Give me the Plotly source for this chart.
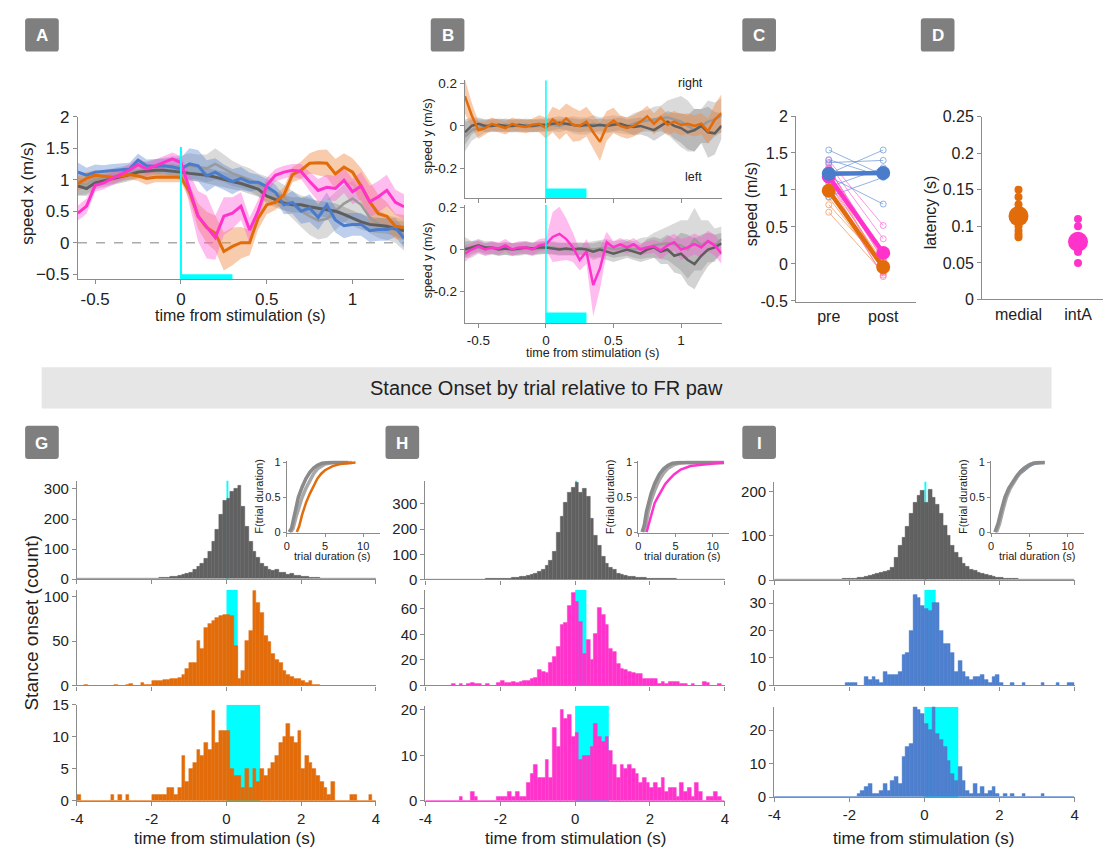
import numpy as np
import plotly.graph_objects as go

W, H = 1107, 856
FONT = "Liberation Sans, Arial, sans-serif"

ORANGE = "#E36C0A"
MAGENTA = "#FF33CC"
BLUE = "#4A7CCB"
DGRAY = "#5E5E5E"
LGRAY = "#9A9A9A"
CYAN = "#00FFFF"
AXC = "#8C8C8C"
TXT = "#222222"

# ---------------- panels A / B : speed traces (0.05 s steps) ----------------
t_trace = np.round(np.arange(-0.6, 1.3001, 0.05), 3)

a_orange = [0.94, 1.02, 1.07, 1.05, 1.04, 1.06, 1.08, 1.06, 1.02, 1.04, 1.04, 1.03, 1.04,
            0.80, 0.42, 0.24, 0.15, -0.14, -0.06, 0.0, 0.0, 0.39, 0.60, 0.64, 0.76, 1.08,
            1.15, 1.26, 1.27, 1.26, 1.09, 1.20, 1.12, 0.90, 0.65, 0.46, 0.42, 0.26, 0.24]
a_orange_sd = [0.12, 0.1, 0.08, 0.08, 0.07, 0.07, 0.07, 0.08, 0.1, 0.08, 0.07, 0.07, 0.08,
               0.12, 0.2, 0.25, 0.28, 0.3, 0.3, 0.25, 0.2, 0.18, 0.15, 0.12, 0.12, 0.12,
               0.14, 0.16, 0.2, 0.22, 0.24, 0.22, 0.22, 0.28, 0.32, 0.3, 0.22, 0.2, 0.2]
a_magenta = [0.47, 0.58, 0.91, 0.95, 1.02, 1.08, 1.15, 1.24, 1.17, 1.22, 1.27, 1.33, 1.27,
             0.85, 0.42, 0.25, 0.08, 0.42, 0.47, 0.58, 0.20, 0.50, 0.91, 1.07, 1.12, 1.15,
             1.13, 0.97, 0.83, 0.88, 0.86, 0.99, 0.81, 0.90, 0.65, 0.73, 0.83, 0.64, 0.57]
a_magenta_sd = [0.12, 0.12, 0.1, 0.1, 0.1, 0.1, 0.1, 0.1, 0.1, 0.1, 0.1, 0.1, 0.1,
                0.25, 0.4, 0.5, 0.35, 0.3, 0.25, 0.22, 0.2, 0.18, 0.12, 0.1, 0.1, 0.1,
                0.12, 0.15, 0.18, 0.2, 0.2, 0.2, 0.2, 0.22, 0.25, 0.25, 0.25, 0.2, 0.2]
a_blue = [1.12, 1.07, 1.12, 1.13, 1.15, 1.16, 1.17, 1.31, 1.22, 1.21, 1.22, 1.20, 1.17,
          1.25, 1.22, 1.06, 1.12, 1.04, 0.97, 1.02, 0.96, 0.96, 0.89, 0.80, 0.60, 0.64,
          0.50, 0.55, 0.40, 0.60, 0.36, 0.27, 0.29, 0.29, 0.19, 0.21, 0.21, 0.24, 0.07]
a_blue_sd = [0.15, 0.12, 0.12, 0.1, 0.1, 0.1, 0.1, 0.1, 0.1, 0.12, 0.12, 0.15, 0.18,
             0.25, 0.25, 0.25, 0.22, 0.2, 0.2, 0.18, 0.15, 0.12, 0.12, 0.12, 0.15, 0.18,
             0.2, 0.22, 0.2, 0.2, 0.2, 0.2, 0.18, 0.18, 0.18, 0.18, 0.18, 0.15, 0.15]
a_gray1 = [0.90, 0.86, 0.95, 0.98, 1.02, 1.05, 1.08, 1.12, 1.14, 1.15, 1.15, 1.14, 1.12,
           1.10, 1.09, 1.07, 1.04, 1.00, 0.97, 0.94, 0.90, 0.85, 0.74, 0.68, 0.63, 0.60,
           0.60, 0.57, 0.55, 0.52, 0.50, 0.45, 0.39, 0.33, 0.29, 0.27, 0.26, 0.22, 0.19]
a_gray1_sd = [0.15, 0.12, 0.1, 0.1, 0.1, 0.1, 0.1, 0.1, 0.1, 0.1, 0.1, 0.1, 0.12,
              0.12, 0.12, 0.12, 0.12, 0.12, 0.12, 0.12, 0.12, 0.12, 0.12, 0.12, 0.12, 0.12,
              0.12, 0.12, 0.12, 0.12, 0.12, 0.12, 0.12, 0.12, 0.12, 0.12, 0.12, 0.12, 0.15]
a_gray2 = [0.95, 0.92, 1.00, 1.03, 1.05, 1.08, 1.12, 1.15, 1.18, 1.20, 1.20, 1.22, 1.20,
           1.22, 1.20, 1.18, 1.25, 1.18, 1.10, 1.05, 1.00, 0.92, 0.85, 0.80, 0.72, 0.60,
           0.50, 0.42, 0.35, 0.38, 0.50, 0.62, 0.70, 0.60, 0.40, 0.30, 0.24, 0.20, 0.12]
a_gray2_sd = [0.2, 0.15, 0.12, 0.12, 0.12, 0.12, 0.12, 0.12, 0.12, 0.12, 0.15, 0.15, 0.18,
              0.2, 0.2, 0.22, 0.25, 0.22, 0.2, 0.18, 0.18, 0.18, 0.2, 0.2, 0.2, 0.22,
              0.25, 0.3, 0.3, 0.3, 0.3, 0.3, 0.28, 0.25, 0.25, 0.22, 0.2, 0.2, 0.25]

b_orange = [0.14, 0.05, -0.02, -0.01, 0.01, 0.0, -0.01, 0.01, 0.0, -0.005, 0.005, 0.01, -0.01,
            0.03, 0.005, 0.035, 0.005, 0.0, 0.02, -0.03, -0.075, 0.0, 0.025, 0.0, -0.01, 0.0,
            0.02, 0.045, 0.01, 0.04, 0.005, 0.02, 0.005, 0.01, 0.0, 0.01, -0.025, 0.03, 0.06]
b_orange_sd = [0.08, 0.06, 0.04, 0.03, 0.03, 0.03, 0.03, 0.03, 0.03, 0.03, 0.03, 0.04, 0.05,
               0.06, 0.07, 0.07, 0.08, 0.07, 0.07, 0.08, 0.09, 0.07, 0.06, 0.05, 0.05, 0.05,
               0.05, 0.05, 0.05, 0.05, 0.05, 0.05, 0.05, 0.05, 0.05, 0.05, 0.06, 0.07, 0.09]
b_top_gray1 = [-0.03, 0.0, 0.01, 0.0, 0.0, 0.005, 0.0, 0.0, 0.005, 0.0, 0.0, 0.005, 0.005,
               0.01, 0.015, 0.01, 0.005, 0.0, 0.005, 0.0, 0.005, 0.0, 0.005, 0.01, 0.0, -0.005,
               0.0, -0.01, -0.02, 0.0, 0.02, 0.0, -0.01, -0.03, -0.02, 0.0, -0.03, -0.035, 0.0]
b_top_gray1_sd = [0.06, 0.04, 0.03, 0.03, 0.03, 0.03, 0.03, 0.03, 0.03, 0.03, 0.03, 0.03, 0.03,
                  0.03, 0.03, 0.03, 0.03, 0.03, 0.03, 0.03, 0.03, 0.03, 0.03, 0.03, 0.03, 0.04,
                  0.04, 0.04, 0.05, 0.05, 0.05, 0.06, 0.07, 0.08, 0.1, 0.08, 0.12, 0.1, 0.06]
b_top_gray2 = [-0.05, -0.02, -0.01, 0.0, 0.005, 0.0, 0.005, 0.0, 0.0, 0.005, 0.0, 0.0, 0.0,
               0.005, 0.0, 0.01, 0.005, 0.0, 0.0, 0.01, 0.0, 0.005, 0.01, 0.005, 0.0, 0.01,
               0.02, 0.025, 0.03, 0.035, 0.04, 0.03, 0.02, 0.0, -0.02, 0.0, 0.02, 0.03, 0.05]
b_top_gray2_sd = [0.07, 0.05, 0.04, 0.03, 0.03, 0.03, 0.03, 0.03, 0.03, 0.03, 0.03, 0.03, 0.03,
                  0.03, 0.03, 0.03, 0.04, 0.04, 0.04, 0.04, 0.04, 0.04, 0.04, 0.04, 0.04, 0.05,
                  0.05, 0.05, 0.06, 0.06, 0.08, 0.1, 0.12, 0.12, 0.1, 0.08, 0.1, 0.08, 0.08]

b_magenta = [-0.02, 0.0, 0.015, 0.0, 0.01, 0.005, 0.02, 0.0, 0.01, 0.01, 0.0, 0.02, 0.025,
             0.06, 0.075, 0.05, 0.01, -0.05, -0.01, -0.17, -0.09, 0.035, 0.01, 0.025, 0.01, 0.025,
             0.0, 0.01, 0.015, -0.005, 0.02, 0.035, 0.0, 0.01, 0.027, 0.01, 0.04, 0.02, -0.02]
b_magenta_sd = [0.04, 0.03, 0.03, 0.03, 0.03, 0.03, 0.03, 0.03, 0.03, 0.03, 0.03, 0.03, 0.03,
                0.12, 0.13, 0.1, 0.07, 0.05, 0.06, 0.15, 0.1, 0.05, 0.03, 0.03, 0.03, 0.03,
                0.03, 0.03, 0.03, 0.04, 0.04, 0.04, 0.05, 0.05, 0.05, 0.05, 0.05, 0.05, 0.05]
b_bot_gray1 = [0.0, 0.01, 0.02, 0.01, 0.01, 0.0, 0.005, 0.0, 0.005, 0.01, 0.005, 0.01, 0.01,
               0.005, 0.0, 0.005, 0.0, 0.005, 0.0, -0.01, 0.0, -0.01, -0.02, -0.01, 0.0, -0.01,
               -0.02, 0.0, 0.01, -0.01, 0.0, -0.03, -0.02, -0.05, -0.07, -0.03, 0.0, 0.01, 0.03]
b_bot_gray1_sd = [0.04, 0.03, 0.03, 0.03, 0.03, 0.03, 0.03, 0.03, 0.03, 0.03, 0.03, 0.03, 0.03,
                  0.03, 0.03, 0.03, 0.03, 0.03, 0.03, 0.04, 0.04, 0.04, 0.04, 0.04, 0.04, 0.04,
                  0.04, 0.05, 0.05, 0.06, 0.07, 0.08, 0.1, 0.12, 0.12, 0.1, 0.08, 0.06, 0.05]
b_bot_gray2 = [0.01, 0.0, 0.01, 0.0, 0.005, 0.0, 0.005, 0.0, 0.0, 0.005, 0.0, 0.005, 0.01,
               0.01, 0.005, 0.0, 0.005, 0.0, 0.005, 0.0, 0.005, 0.01, 0.0, 0.005, 0.01, 0.0,
               0.005, 0.01, 0.02, 0.025, 0.03, 0.025, 0.02, 0.0, 0.05, 0.02, 0.04, 0.02, 0.05]
b_bot_gray2_sd = [0.05, 0.04, 0.03, 0.03, 0.03, 0.03, 0.03, 0.03, 0.03, 0.03, 0.03, 0.03, 0.03,
                  0.03, 0.03, 0.03, 0.03, 0.03, 0.03, 0.04, 0.04, 0.04, 0.04, 0.04, 0.04, 0.04,
                  0.05, 0.05, 0.06, 0.07, 0.08, 0.1, 0.12, 0.14, 0.15, 0.12, 0.1, 0.08, 0.06]

# ---------------- panel C : speed before / after stimulation ----------------
c_blue_pre = [1.54, 1.41, 1.37, 1.25, 1.22, 1.18, 1.04, 0.91]
c_blue_post = [1.20, 1.18, 1.40, 1.22, 1.54, 0.81, 1.30, 1.17]
c_orange_pre = [1.30, 1.20, 1.10, 1.05, 1.00, 0.90, 0.80, 0.70]
c_orange_post = [0.05, -0.05, 0.02, -0.10, -0.15, -0.08, 0.0, -0.12]
c_magenta_pre = [1.40, 1.35, 1.28, 1.22, 1.15, 1.10, 1.04, 1.30]
c_magenta_post = [0.52, 0.34, 0.16, 0.05, -0.04, -0.10, -0.17, 0.12]
c_blue_mean = [1.22, 1.23]
c_orange_mean = [0.99, -0.04]
c_magenta_mean = [1.18, 0.15]

# ---------------- panel D : latency ----------------
d_medial = [0.150, 0.140, 0.130, 0.120, 0.110, 0.100, 0.094, 0.089, 0.085]
d_medial_mean = 0.114
d_inta = [0.110, 0.100, 0.086, 0.075, 0.070, 0.065, 0.050]
d_inta_mean = 0.079

# ---------------- panels G / H / I : stance-onset histograms (0.1 s bins) ----------------
bin_edges = np.round(np.arange(-4.0, 4.0001, 0.1), 2)
bin_centers = np.round(bin_edges[:-1] + 0.05, 3)

g_ctrl = [0, 0, 1, 0, 0, 1, 0, 0, 1, 0, 0, 1, 0, 1, 1, 2, 1, 2, 2, 3,
          3, 3, 4, 5, 5, 7, 8, 10, 14, 18, 22, 30, 40, 52, 68, 90, 125, 165, 215, 262,
          268, 290, 300, 310, 240, 175, 125, 92, 72, 52, 42, 33, 28, 30, 22, 20, 16, 17, 12, 10,
          9, 7, 5, 5, 4, 3, 3, 2, 2, 2, 1, 1, 1, 1, 0, 1, 0, 0, 1, 0]
g_short = [0, 0, 1, 0, 0, 0, 0, 0, 0, 0, 1, 0, 0, 1, 2, 0, 0, 3, 1, 1,
           5, 5, 5, 6, 6, 7, 8, 9, 12, 19, 25, 25, 50, 41, 65, 69, 73, 76, 78, 79,
           79, 78, 45, 8, 16, 50, 62, 107, 93, 82, 56, 49, 36, 29, 25, 16, 12, 10, 8, 7,
           5, 3, 5, 1, 1, 0, 0, 0, 0, 0, 0, 0, 0, 0, 0, 0, 0, 0, 0, 0]
g_long = [1, 0, 0, 0, 0, 0, 0, 0, 0, 1, 0, 1, 0, 1, 0, 0, 0, 0, 0, 0,
          1, 1, 1, 1, 2, 2, 1, 2, 7, 3, 5, 6, 8, 7, 9, 8, 14, 9, 11, 11,
          11, 5, 4, 4, 2, 5, 2, 5, 3, 5, 4, 5, 6, 7, 9, 10, 12, 10, 9, 11,
          5, 7, 6, 5, 4, 3, 2, 1, 3, 0, 0, 0, 0, 1, 1, 0, 0, 0, 1, 0]

h_ctrl = [0, 0, 0, 0, 0, 0, 0, 0, 1, 0, 0, 0, 1, 0, 1, 1, 2, 2, 3, 3,
          4, 4, 5, 6, 8, 10, 12, 15, 19, 25, 30, 40, 55, 75, 110, 185, 250, 305, 345, 365,
          385, 345, 360, 330, 240, 175, 135, 90, 62, 48, 38, 25, 18, 15, 12, 10, 8, 7, 6, 5,
          5, 4, 3, 3, 2, 2, 2, 1, 1, 1, 1, 1, 1, 0, 1, 0, 0, 1, 0, 0]
h_short = [0, 0, 0, 0, 0, 0, 0, 1, 0, 1, 0, 1, 2, 1, 1, 0, 1, 0, 0, 2,
           4, 2, 2, 3, 2, 3, 4, 4, 5, 6, 12, 11, 10, 18, 22, 30, 47, 49, 62, 72,
           65, 50, 25, 36, 20, 40, 61, 55, 47, 29, 26, 17, 13, 12, 11, 10, 9, 9, 5, 5,
           5, 5, 1, 3, 1, 3, 3, 3, 1, 1, 0, 1, 0, 0, 3, 2, 0, 0, 1, 0]
h_long = [0, 0, 0, 0, 0, 0, 0, 0, 0, 1, 0, 0, 2, 1, 0, 0, 0, 0, 0, 1,
          1, 1, 2, 1, 2, 1, 1, 4, 6, 8, 5, 5, 9, 5, 16, 12, 20, 18, 19, 14,
          15, 9, 10, 10, 12, 17, 14, 13, 14, 11, 8, 5, 8, 7, 8, 7, 6, 4, 5, 4,
          3, 4, 3, 5, 2, 3, 3, 1, 4, 2, 3, 1, 4, 2, 0, 1, 1, 2, 1, 0]

i_ctrl = [0, 0, 1, 0, 0, 1, 0, 1, 0, 1, 1, 1, 1, 1, 1, 2, 2, 2, 3, 3,
          4, 4, 5, 6, 8, 10, 13, 15, 17, 19, 22, 28, 50, 78, 95, 120, 150, 175, 190, 202,
          175, 205, 185, 170, 150, 122, 100, 78, 62, 50, 38, 30, 24, 22, 18, 15, 12, 10, 8, 6,
          5, 4, 3, 3, 3, 2, 2, 2, 2, 1, 1, 1, 1, 1, 1, 1, 1, 0, 1, 0]
i_short = [0, 0, 0, 0, 0, 0, 0, 0, 0, 0, 0, 0, 0, 0, 0, 0, 0, 0, 0, 1,
           1, 1, 0, 0, 3, 2, 3, 2, 1, 5, 4, 4, 4, 5, 11, 12, 20, 33, 32, 29,
           28, 27, 30, 30, 20, 15, 15, 12, 5, 9, 5, 3, 2, 3, 3, 4, 2, 1, 3, 4,
           1, 0, 0, 1, 0, 0, 1, 0, 0, 0, 0, 1, 0, 0, 0, 1, 0, 0, 1, 1]
i_long = [0, 0, 0, 0, 0, 0, 0, 0, 0, 0, 0, 0, 0, 0, 0, 0, 0, 0, 0, 0,
          0, 0, 1, 2, 3, 4, 1, 1, 2, 4, 2, 5, 6, 4, 12, 15, 16, 27, 26, 25,
          22, 20, 27, 19, 17, 15, 11, 7, 5, 9, 5, 2, 1, 4, 1, 3, 1, 2, 3, 1,
          0, 1, 0, 1, 0, 0, 1, 0, 0, 0, 0, 1, 0, 0, 0, 0, 0, 0, 0, 0]

# ---------------- insets : cumulative trial-duration distributions ----------------
g_cdf_ctrl1_x = [0.3, 0.6, 0.9, 1.2, 1.5, 2.0, 2.5, 3.0, 3.5, 4.0, 4.6, 5.5, 8.0]
g_cdf_ctrl1_y = [0, 0.05, 0.2, 0.38, 0.5, 0.65, 0.77, 0.86, 0.92, 0.96, 0.99, 1.0, 1.0]
g_cdf_ctrl2_x = [0.5, 0.8, 1.2, 1.6, 2.0, 2.5, 3.0, 3.5, 4.0, 4.5, 5.0, 6.0, 8.5]
g_cdf_ctrl2_y = [0, 0.05, 0.22, 0.38, 0.5, 0.63, 0.75, 0.84, 0.91, 0.95, 0.98, 1.0, 1.0]
g_cdf_stim_x = [1.3, 1.6, 2.0, 2.5, 3.0, 3.5, 4.0, 4.5, 5.0, 6.0, 7.0, 8.0, 9.0]
g_cdf_stim_y = [0, 0.08, 0.25, 0.42, 0.55, 0.67, 0.77, 0.84, 0.89, 0.95, 0.98, 0.99, 1.0]

h_cdf_ctrl1_x = [0.5, 0.8, 1.1, 1.4, 1.7, 2.2, 2.8, 3.4, 4.0, 4.6, 5.5, 11.5]
h_cdf_ctrl1_y = [0, 0.1, 0.3, 0.45, 0.55, 0.7, 0.83, 0.91, 0.96, 0.99, 1.0, 1.0]
h_cdf_ctrl2_x = [0.7, 1.0, 1.3, 1.7, 2.2, 2.8, 3.4, 4.0, 4.8, 5.5, 6.5, 11.5]
h_cdf_ctrl2_y = [0, 0.1, 0.28, 0.45, 0.6, 0.75, 0.85, 0.92, 0.97, 0.99, 1.0, 1.0]
h_cdf_stim_x = [1.1, 1.4, 1.8, 2.2, 2.6, 3.1, 3.6, 4.1, 4.8, 5.7, 7.0, 8.5, 10.0, 11.5]
h_cdf_stim_y = [0, 0.12, 0.3, 0.42, 0.5, 0.6, 0.69, 0.75, 0.83, 0.9, 0.95, 0.97, 0.99, 1.0]

i_cdf_ctrl1_x = [0.5, 0.9, 1.3, 1.8, 2.3, 2.8, 3.3, 3.8, 4.3, 4.9, 5.5, 6.2, 7.0]
i_cdf_ctrl1_y = [0, 0.12, 0.3, 0.5, 0.63, 0.72, 0.8, 0.87, 0.92, 0.96, 0.99, 1.0, 1.0]
i_cdf_ctrl2_x = [0.7, 1.1, 1.5, 2.0, 2.5, 3.0, 3.5, 4.0, 4.5, 5.0, 5.7, 6.5, 7.0]
i_cdf_ctrl2_y = [0, 0.12, 0.3, 0.5, 0.63, 0.73, 0.81, 0.88, 0.93, 0.97, 0.99, 1.0, 1.0]
i_cdf_stim_x = [0.6, 1.0, 1.4, 1.9, 2.4, 2.9, 3.4, 3.9, 4.4, 4.9, 5.5, 6.0, 6.5]
i_cdf_stim_y = [0, 0.13, 0.3, 0.5, 0.63, 0.72, 0.79, 0.85, 0.9, 0.94, 0.98, 0.99, 1.0]

# stimulation windows (s)
STIM_LONG = 0.3
HIST_STIM = [0.05, 0.3, 0.9]

# ======================================================================
fig = go.Figure()
layout = dict(width=W, height=H, margin=dict(l=0, r=0, t=0, b=0),
              paper_bgcolor="white", plot_bgcolor="white", showlegend=False,
              bargap=0, font=dict(family=FONT, color=TXT))
shapes, annotations = [], []


def sfx(n):
    return "" if n == 1 else str(n)


def add_axes(n, px0, px1, py0, py1, xr, yr, xticks, yticks, fs=16,
             xticktext=None, show_xlabels=True, ticklen=4):
    common = dict(showline=True, linecolor=AXC, linewidth=1.3, ticks="outside",
                  ticklen=ticklen, tickwidth=1.2, tickcolor=AXC, showgrid=False,
                  zeroline=False, tickfont=dict(size=fs, color=TXT, family=FONT))
    layout["xaxis" + sfx(n)] = dict(common, domain=[px0 / W, px1 / W], range=xr,
                                    anchor="y" + sfx(n), tickvals=xticks,
                                    ticktext=xticktext, showticklabels=show_xlabels)
    layout["yaxis" + sfx(n)] = dict(common, domain=[1 - py1 / H, 1 - py0 / H], range=yr,
                                    anchor="x" + sfx(n), tickvals=yticks)


def refs(n):
    return dict(xaxis="x" + sfx(n), yaxis="y" + sfx(n))


def band_trace(n, x, mean, sd, fill):
    x = list(x)
    up = [m + s for m, s in zip(mean, sd)]
    lo = [m - s for m, s in zip(mean, sd)]
    return go.Scatter(x=x + x[::-1], y=up + lo[::-1], fill="toself", fillcolor=fill,
                      line=dict(width=0), mode="lines", hoverinfo="skip", **refs(n))


def line_trace(n, x, y, color, width=3):
    return go.Scatter(x=list(x), y=y, mode="lines", line=dict(color=color, width=width),
                      hoverinfo="skip", **refs(n))


def text(x, y, s, size, angle=0, color=TXT, xanchor="center", yanchor="middle"):
    annotations.append(dict(x=x / W, y=1 - y / H, xref="paper", yref="paper", text=s,
                            showarrow=False, textangle=angle, xanchor=xanchor,
                            yanchor=yanchor, font=dict(size=size, color=color, family=FONT)))


def letter_box(x0, y0, x1, y1, letter, r=3):
    X = lambda v: v / W
    Y = lambda v: 1 - v / H
    path = (f"M {X(x0 + r)},{Y(y0)} L {X(x1 - r)},{Y(y0)} Q {X(x1)},{Y(y0)} {X(x1)},{Y(y0 + r)} "
            f"L {X(x1)},{Y(y1 - r)} Q {X(x1)},{Y(y1)} {X(x1 - r)},{Y(y1)} "
            f"L {X(x0 + r)},{Y(y1)} Q {X(x0)},{Y(y1)} {X(x0)},{Y(y1 - r)} "
            f"L {X(x0)},{Y(y0 + r)} Q {X(x0)},{Y(y0)} {X(x0 + r)},{Y(y0)} Z")
    shapes.append(dict(type="path", path=path, xref="paper", yref="paper",
                       fillcolor="#7F7F7F", line=dict(width=0)))
    text((x0 + x1) / 2, (y0 + y1) / 2 + 1, f"<b>{letter}</b>", 17, color="white")


# ---------------- A ----------------
add_axes(1, 71.7, 401, 110, 276, [-0.6, 1.3], [-0.58, 2.0],
         [-0.5, 0, 0.5, 1], [-0.5, 0, 0.5, 1, 1.5, 2], fs=17)
layout["xaxis"]["ticktext"] = ["-0.5", "0", "0.5", "1"]
shapes.append(dict(type="line", xref="x", yref="y", x0=-0.6, x1=1.3, y0=0, y1=0,
                   line=dict(color="#AAAAAA", width=1.5, dash="dash"), layer="below"))
fig.add_trace(band_trace(1, t_trace, a_gray2, a_gray2_sd, "rgba(150,150,150,0.35)"))
fig.add_trace(band_trace(1, t_trace, a_gray1, a_gray1_sd, "rgba(110,110,110,0.30)"))
fig.add_trace(band_trace(1, t_trace, a_blue, a_blue_sd, "rgba(90,135,210,0.40)"))
fig.add_trace(band_trace(1, t_trace, a_orange, a_orange_sd, "rgba(238,140,70,0.45)"))
fig.add_trace(band_trace(1, t_trace, a_magenta, a_magenta_sd, "rgba(255,90,215,0.40)"))
fig.add_trace(line_trace(1, t_trace, a_gray2, LGRAY, 2.5))
fig.add_trace(line_trace(1, t_trace, a_gray1, DGRAY, 3))
fig.add_trace(line_trace(1, t_trace, a_blue, BLUE, 3))
fig.add_trace(line_trace(1, t_trace, a_orange, ORANGE, 3))
fig.add_trace(line_trace(1, t_trace, a_magenta, MAGENTA, 3))
shapes.append(dict(type="line", xref="x", yref="y", x0=0, x1=0, y0=-0.58, y1=1.52,
                   line=dict(color=CYAN, width=2)))
shapes.append(dict(type="rect", xref="x", yref="y", x0=0, x1=STIM_LONG, y0=-0.58, y1=-0.5,
                   fillcolor=CYAN, line=dict(width=0)))
text(20, 188, "speed x (m/s)", 17, angle=-90)
text(236, 313, "time from stimulation (s)", 16)

# ---------------- B ----------------
add_axes(2, 462.5, 721.7, 72.7, 193.3, [-0.6, 1.3], [-0.34, 0.215],
         [-0.5, 0, 0.5, 1], [-0.2, 0, 0.2], fs=13.5, show_xlabels=False)
add_axes(3, 462.5, 721.7, 200, 321, [-0.6, 1.3], [-0.353, 0.214],
         [-0.5, 0, 0.5, 1], [-0.2, 0, 0.2], fs=13.5)
layout["xaxis3"]["ticktext"] = ["-0.5", "0", "0.5", "1"]
layout["yaxis2"]["ticktext"] = ["-0.2", "0", "0.2"]
layout["yaxis3"]["ticktext"] = ["-0.2", "0", "0.2"]
fig.add_trace(band_trace(2, t_trace, b_top_gray2, b_top_gray2_sd, "rgba(150,150,150,0.35)"))
fig.add_trace(band_trace(2, t_trace, b_top_gray1, b_top_gray1_sd, "rgba(110,110,110,0.30)"))
fig.add_trace(band_trace(2, t_trace, b_orange, b_orange_sd, "rgba(238,140,70,0.45)"))
fig.add_trace(line_trace(2, t_trace, b_top_gray2, LGRAY, 2.5))
fig.add_trace(line_trace(2, t_trace, b_top_gray1, DGRAY, 2.5))
fig.add_trace(line_trace(2, t_trace, b_orange, ORANGE, 2.5))
fig.add_trace(band_trace(3, t_trace, b_bot_gray2, b_bot_gray2_sd, "rgba(150,150,150,0.35)"))
fig.add_trace(band_trace(3, t_trace, b_bot_gray1, b_bot_gray1_sd, "rgba(110,110,110,0.30)"))
fig.add_trace(band_trace(3, t_trace, b_magenta, b_magenta_sd, "rgba(255,90,215,0.40)"))
fig.add_trace(line_trace(3, t_trace, b_bot_gray2, LGRAY, 2.5))
fig.add_trace(line_trace(3, t_trace, b_bot_gray1, DGRAY, 2.5))
fig.add_trace(line_trace(3, t_trace, b_magenta, MAGENTA, 2.5))
for n, (lo, hi, bar) in {2: (-0.34, 0.215, 0.046), 3: (-0.353, 0.214, 0.052)}.items():
    shapes.append(dict(type="line", xref="x" + sfx(n), yref="y" + sfx(n), x0=0, x1=0,
                       y0=lo, y1=hi, line=dict(color=CYAN, width=1.5)))
    shapes.append(dict(type="rect", xref="x" + sfx(n), yref="y" + sfx(n), x0=0, x1=STIM_LONG,
                       y0=lo, y1=lo + bar, fillcolor=CYAN, line=dict(width=0)))
text(425, 130, "speed y (m/s)", 12.5, angle=-90)
text(425, 257, "speed y (m/s)", 12.5, angle=-90)
text(591, 351, "time from stimulation (s)", 12.5)
text(690, 76, "right", 12.5)
text(693, 172, "left", 12.5)

# ---------------- C ----------------
add_axes(4, 797.3, 918, 109.3, 299, [0.405, 2.6], [-0.51, 2.0],
         [1, 2], [-0.5, 0, 0.5, 1, 1.5, 2], fs=16, xticktext=["pre", "post"])
layout["yaxis4"]["ticktext"] = ["-0.5", "0", "0.5", "1", "1.5", "2"]
layout["xaxis4"]["ticks"] = ""
groups = [(c_orange_pre, c_orange_post, "rgba(240,150,90,0.75)"),
          (c_magenta_pre, c_magenta_post, "rgba(255,110,220,0.75)"),
          (c_blue_pre, c_blue_post, "rgba(100,145,215,0.7)")]
for pre, post, col in groups:
    for a, b in zip(pre, post):
        fig.add_trace(go.Scatter(x=[1, 2], y=[a, b], mode="lines+markers",
                                 line=dict(color=col, width=1),
                                 marker=dict(symbol="circle-open", size=6, color=col,
                                             line=dict(width=1)),
                                 hoverinfo="skip", cliponaxis=False, **refs(4)))
for mean, col in [(c_orange_mean, ORANGE), (c_magenta_mean, MAGENTA), (c_blue_mean, BLUE)]:
    fig.add_trace(go.Scatter(x=[1, 2], y=mean, mode="lines+markers",
                             line=dict(color=col, width=4.5),
                             marker=dict(size=14, color=col), hoverinfo="skip",
                             cliponaxis=False, **refs(4)))
text(752, 200, "speed (m/s)", 16, angle=-90)

# ---------------- D ----------------
add_axes(5, 985, 1107, 110, 296.7, [0.39, 2.42], [0, 0.25],
         [1, 2], [0, 0.05, 0.1, 0.15, 0.2, 0.25], fs=16, xticktext=["medial", "intA"])
layout["yaxis5"]["ticktext"] = ["0", "0.05", "0.1", "0.15", "0.2", "0.25"]
layout["xaxis5"]["ticks"] = ""
fig.add_trace(go.Scatter(x=[1] * len(d_medial), y=d_medial, mode="markers",
                         marker=dict(size=8, color=ORANGE), hoverinfo="skip", **refs(5)))
fig.add_trace(go.Scatter(x=[1], y=[d_medial_mean], mode="markers",
                         marker=dict(size=20, color=ORANGE), hoverinfo="skip", **refs(5)))
fig.add_trace(go.Scatter(x=[2] * len(d_inta), y=d_inta, mode="markers",
                         marker=dict(size=8, color=MAGENTA), hoverinfo="skip", **refs(5)))
fig.add_trace(go.Scatter(x=[2], y=[d_inta_mean], mode="markers",
                         marker=dict(size=20, color=MAGENTA), hoverinfo="skip", **refs(5)))
text(933, 208, "latency (s)", 16, angle=-90)

# ---------------- G / H / I histograms ----------------
HX = [-4, -2, 0, 2, 4]
HIST_COLS = [
    # (x0, x1, rows[(ytop, ybot, ymax, yticks, counts, color)])
    (70.7, 372.7, [(481.7, 582.3, 328, [0, 100, 200, 300], g_ctrl, "#616161"),
                   (593.3, 691, 107.7, [0, 50, 100], g_short, ORANGE),
                   (710.7, 809, 15, [0, 5, 10, 15], g_long, ORANGE)]),
    (422.7, 725, [(481.7, 582.7, 393, [0, 100, 200, 300], h_ctrl, "#616161"),
                  (593.3, 691, 74.7, [0, 20, 40, 60], h_short, MAGENTA),
                  (711.7, 809, 20.9, [0, 10, 20], h_long, MAGENTA)]),
    (775, 1078.3, [(482.7, 583.3, 222, [0, 100, 200], i_ctrl, "#616161"),
                   (593.3, 691, 34.8, [0, 10, 20, 30], i_short, "#4F80CF"),
                   (712.7, 805, 27, [0, 10, 20], i_long, "#4F80CF")]),
]
n = 6
for x0, x1, rows in HIST_COLS:
    for r, (yt, yb, ymax, yt_vals, counts, col) in enumerate(rows):
        add_axes(n, x0, x1, yt, yb, [-4, 4], [0, ymax], HX, yt_vals, fs=15,
                 show_xlabels=(r == 2))
        layout["xaxis" + sfx(n)]["ticktext"] = ["-4", "-2", "0", "2", "4"]
        shapes.append(dict(type="rect", xref="x" + sfx(n), yref="y" + sfx(n), x0=0,
                           x1=HIST_STIM[r], y0=0, y1=ymax, fillcolor=CYAN,
                           line=dict(width=0), layer="below"))
        fig.add_trace(go.Bar(x=bin_centers, y=counts, width=0.1,
                             marker=dict(color=col, line=dict(width=0.4, color=col)),
                             hoverinfo="skip", **refs(n)))
        n += 1

text(25, 627, "Stance onset (count)", 19, angle=-90)
text(220, 847, "time from stimulation (s)", 17)
text(574, 847, "time from stimulation (s)", 17)
text(926, 847, "time from stimulation (s)", 17)

# ---------------- insets ----------------
INSETS = [
    (282.7, 376.7, [(g_cdf_ctrl2_x, g_cdf_ctrl2_y, "#A8A8A8", 3.5),
                    (g_cdf_ctrl1_x, g_cdf_ctrl1_y, "#8A8A8A", 3.5),
                    (g_cdf_stim_x, g_cdf_stim_y, ORANGE, 2.5)], 328),
    (637.7, 729.3, [(h_cdf_ctrl2_x, h_cdf_ctrl2_y, "#A8A8A8", 3.5),
                    (h_cdf_ctrl1_x, h_cdf_ctrl1_y, "#8A8A8A", 3.5),
                    (h_cdf_stim_x, h_cdf_stim_y, MAGENTA, 2.5)], 682),
    (994, 1088.3, [(i_cdf_stim_x, i_cdf_stim_y, BLUE, 2.5),
                   (i_cdf_ctrl2_x, i_cdf_ctrl2_y, "#A8A8A8", 3.5),
                   (i_cdf_ctrl1_x, i_cdf_ctrl1_y, "#8A8A8A", 3.5)], 1040),
]
for x0, x1, curves, xtx in INSETS:
    add_axes(n, x0, x1, 461.2, 535, [0, 12.2], [-0.01, 1.03], [0, 5, 10], [0, 0.5, 1],
             fs=11, ticklen=3)
    layout["xaxis" + sfx(n)]["ticklabelstandoff"] = 0
    for cx, cy, col, w in curves:
        fig.add_trace(go.Scatter(x=cx, y=cy, mode="lines", line=dict(color=col, width=w),
                                 hoverinfo="skip", **refs(n)))
    text(x0 - 29, 498, "F(trial duration)", 11, angle=-90)
    text(xtx, 559, "trial duration (s)", 11)
    n += 1

# ---------------- banner and panel letters ----------------
shapes.append(dict(type="rect", xref="paper", yref="paper", x0=35 / W, x1=1055 / W,
                   y0=1 - 408 / H, y1=1 - 366 / H, fillcolor="#E6E6E6", line=dict(width=0),
                   layer="below"))
text(545, 387, "Stance Onset by trial relative to FR paw", 20)
for (bx0, by0, letter) in [(18.3, 9.5, "A"), (428, 9.5, "B"), (742.7, 9.5, "C"),
                           (923, 9.5, "D"), (18.3, 425.7, "G"), (382.3, 425.7, "H"),
                           (742.7, 425.7, "I")]:
    letter_box(bx0, by0, bx0 + 34, by0 + 34, letter)

layout["shapes"] = shapes
layout["annotations"] = annotations
fig.update_layout(**layout)
fig.write_html("out.html")
